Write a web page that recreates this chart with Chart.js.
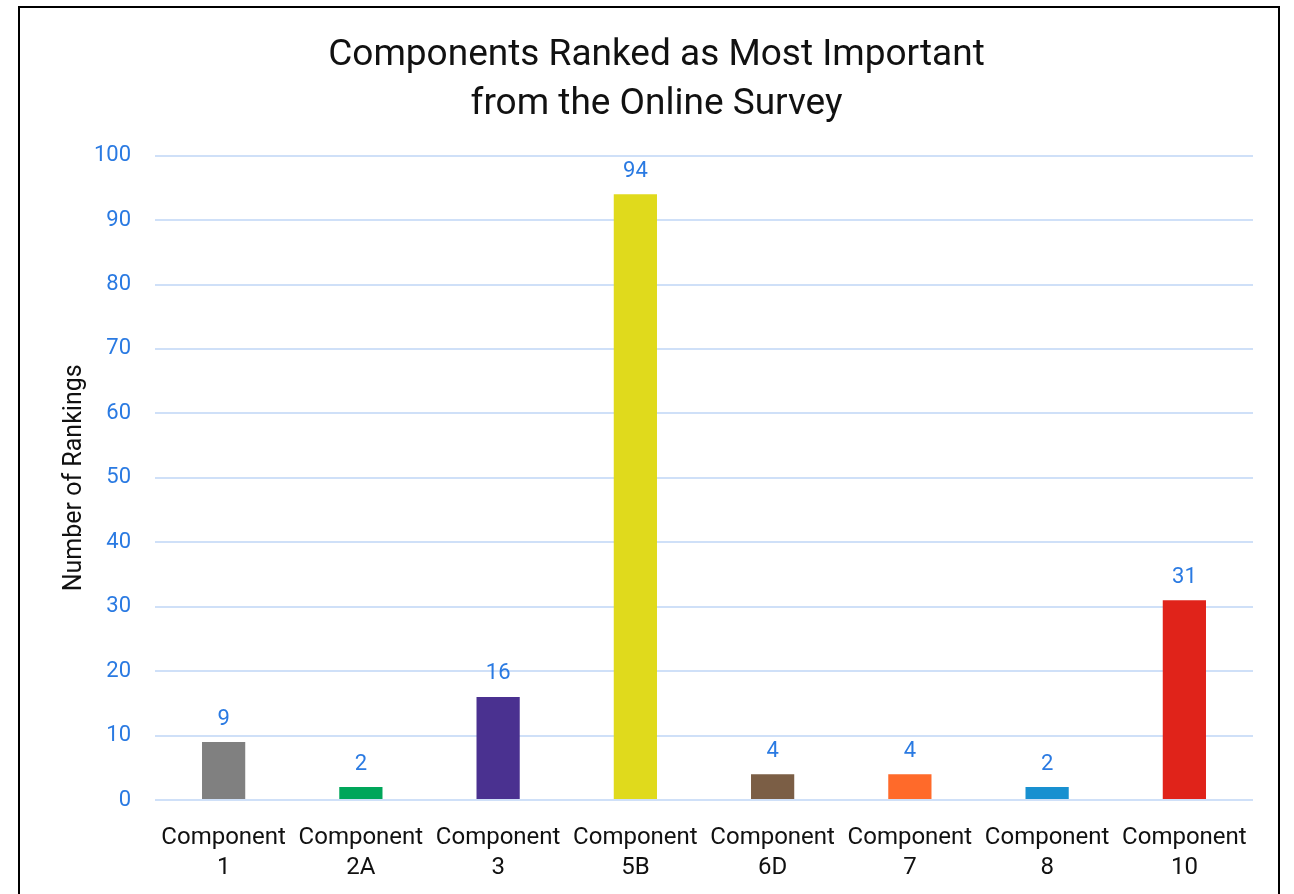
<!DOCTYPE html>
<html>
<head>
<meta charset="utf-8">
<script src="https://cdn.jsdelivr.net/npm/chart.js@4"></script>
<style>
  html, body { margin: 0; padding: 0; background: #fff; overflow: hidden; }
  #wrap { position: relative; width: 1294px; height: 894px; }
  #frame { position: absolute; left: 18px; top: 6px; width: 1262px; height: 900px; border: 2px solid #000; box-sizing: border-box; pointer-events: none; }
</style>
</head>
<body>
<div id="wrap">
  <canvas id="chart-componentes" width="1294" height="894"></canvas>
  <div id="frame"></div>
</div>
<script>
// datos del grafico
const categorias = [['Component', '1'], ['Component', '2A'], ['Component', '3'], ['Component', '5B'],
                    ['Component', '6D'], ['Component', '7'], ['Component', '8'], ['Component', '10']];
const rankings = [9, 2, 16, 94, 4, 4, 2, 31];
const colores = ['#808080', '#00a65a', '#4a3190', '#e0da1c', '#7b5e45', '#ff6a2a', '#1890d0', '#e0231a'];

const azul = '#2a7ae2';

// etiquetas de valor encima de cada barra
const etiquetas = {
    id: 'etiquetas',
    afterDatasetsDraw(chart) {
        const ctx = chart.ctx;
        const meta = chart.getDatasetMeta(0);
        ctx.save();
        ctx.fillStyle = azul;
        ctx.font = '22px Roboto';
        ctx.textAlign = 'center';
        ctx.textBaseline = 'bottom';
        meta.data.forEach((bar, i) => {
            ctx.fillText(String(rankings[i]), bar.x, bar.y - 12);
        });
        ctx.restore();
    }
};

const ctx = document.getElementById('chart-componentes').getContext('2d');
new Chart(ctx, {
    type: 'bar',
    data: {
        labels: categorias,
        datasets: [{
            label: 'Number of Rankings',
            data: rankings,
            backgroundColor: colores,
            borderWidth: 0,
            barPercentage: 0.315,
            categoryPercentage: 1,
        }],
    },
    options: {
        responsive: false,
        animation: false,
        layout: { padding: { left: 60, right: 41, top: 0, bottom: 0 } },
        scales: {
            x: {
                afterFit(scale) { scale.height = 94; },
                grid: { display: false, drawTicks: false },
                border: { display: false },
                ticks: {
                    color: '#111',
                    font: { family: 'Roboto', size: 24, lineHeight: 1.25 },
                    padding: 23,
                    maxRotation: 0,
                    autoSkip: false,
                },
            },
            y: {
                min: 0,
                max: 100,
                afterFit(scale) { scale.width = 95; },
                grid: { color: '#cfe0f8', lineWidth: 2, drawTicks: false },
                border: { display: false },
                ticks: {
                    stepSize: 10,
                    color: azul,
                    font: { family: 'Roboto', size: 22 },
                    padding: 24,
                },
                title: {
                    display: true,
                    text: 'Number of Rankings',
                    color: '#111',
                    font: { family: 'Roboto', size: 25 },
                    padding: { top: 0, bottom: 0 },
                },
            },
        },
        plugins: {
            legend: { display: false },
            tooltip: { enabled: false },
            title: {
                display: true,
                text: ['Components Ranked as Most Important', 'from the Online Survey'],
                color: '#111',
                font: { family: 'Roboto', size: 37, weight: 'normal', lineHeight: 1.32 },
                padding: { top: 31, bottom: 27 },
            },
        },
    },
    plugins: [etiquetas],
});
</script>
</body>
</html>
